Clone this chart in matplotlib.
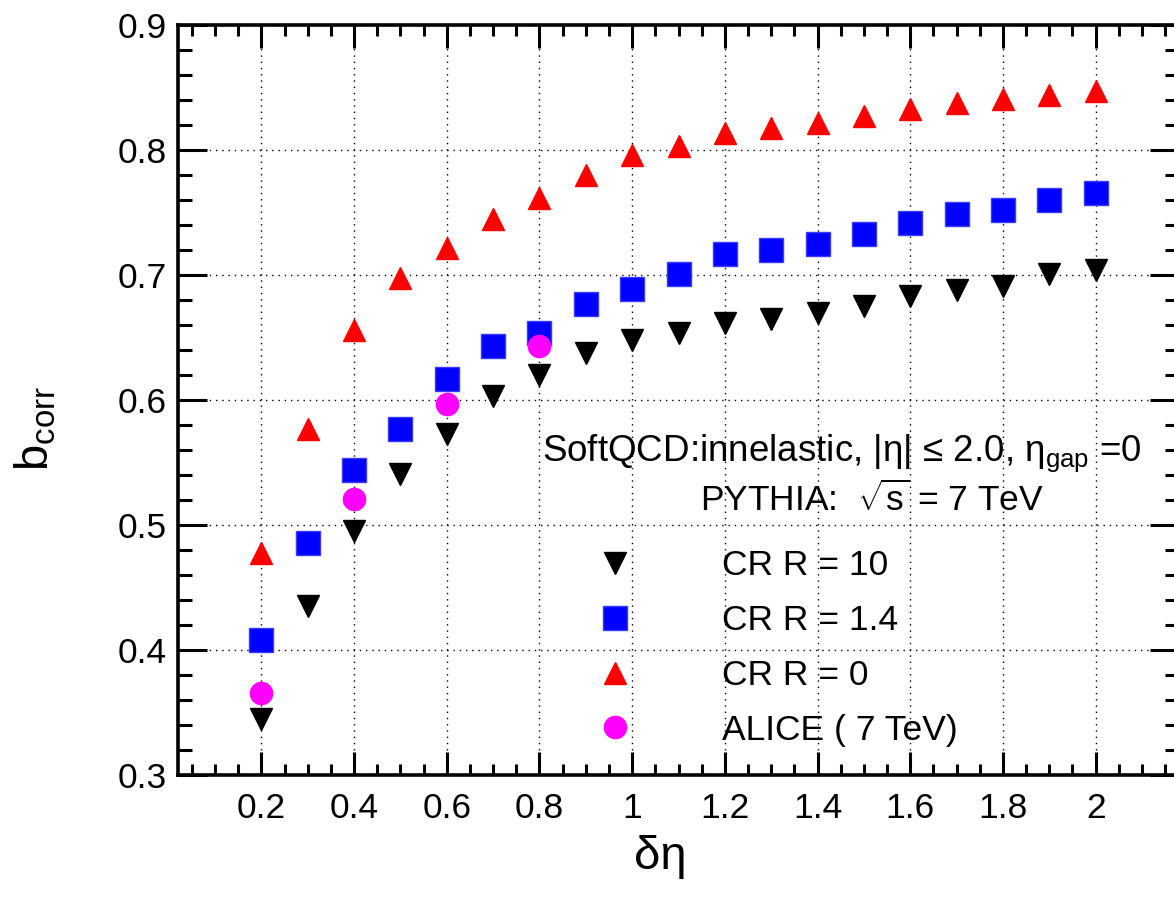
import matplotlib
matplotlib.use("Agg")
import matplotlib.pyplot as plt
from matplotlib.ticker import MultipleLocator

plt.rcParams['font.family'] = ['Liberation Sans', 'DejaVu Sans']
plt.rcParams['mathtext.fontset'] = 'custom'
plt.rcParams['mathtext.rm'] = 'Liberation Sans'
plt.rcParams['mathtext.it'] = 'Liberation Sans:italic'
plt.rcParams['mathtext.bf'] = 'Liberation Sans:bold'

# b_corr vs delta-eta window
deta = [0.2, 0.3, 0.4, 0.5, 0.6, 0.7, 0.8, 0.9, 1.0, 1.1,
        1.2, 1.3, 1.4, 1.5, 1.6, 1.7, 1.8, 1.9, 2.0]
cr_r10 = [0.345, 0.435, 0.495, 0.541, 0.573, 0.603, 0.620, 0.638, 0.648, 0.654,
          0.662, 0.665, 0.670, 0.675, 0.683, 0.688, 0.691, 0.701, 0.704]
cr_r14 = [0.408, 0.486, 0.544, 0.577, 0.617, 0.643, 0.654, 0.677, 0.689, 0.701,
          0.717, 0.720, 0.725, 0.733, 0.742, 0.749, 0.752, 0.760, 0.766]
cr_r0 = [0.478, 0.577, 0.656, 0.698, 0.722, 0.745, 0.762, 0.780, 0.796, 0.803,
         0.814, 0.818, 0.822, 0.827, 0.833, 0.838, 0.841, 0.844, 0.847]
alice_deta = [0.2, 0.4, 0.6, 0.8]
alice = [0.366, 0.521, 0.597, 0.643]

W, H = 1174, 901
fig = plt.figure(figsize=(W / 100, H / 100), dpi=100)
# frame runs slightly past the right edge of the canvas
ax = fig.add_axes([178 / W, (H - 775) / H, (1179 - 178) / W, 750 / H])

l1, = ax.plot(deta, cr_r10, 'v', color='black', ms=16, ls='none', label='CR R = 10')
l2, = ax.plot(deta, cr_r14, 's', color='#0000ff', mec='#3b3bff', ms=17, ls='none', label='CR R = 1.4')
l3, = ax.plot(deta, cr_r0, '^', color='#ff0000', ms=16, ls='none', label='CR R = 0')
l4, = ax.plot(alice_deta, alice, 'o', color='#ff00ff', ms=16, ls='none', label='ALICE ( 7 TeV)')

ax.set_xlim(0.02, 2.18)
ax.set_ylim(0.3, 0.9)
ax.xaxis.set_minor_locator(MultipleLocator(0.05))
ax.yaxis.set_minor_locator(MultipleLocator(0.02))
ax.set_xticks([0.2, 0.4, 0.6, 0.8, 1.0, 1.2, 1.4, 1.6, 1.8, 2.0])
ax.set_xticklabels(['0.2', '0.4', '0.6', '0.8', '1', '1.2', '1.4', '1.6', '1.8', '2'])
ax.set_yticks([0.3, 0.4, 0.5, 0.6, 0.7, 0.8, 0.9])
ax.set_yticklabels(['0.3', '0.4', '0.5', '0.6', '0.7', '0.8', '0.9'])

ax.grid(True, which='major', color='black', lw=1.0, ls=(0, (1, 3.5)))
ax.set_axisbelow(True)

for s in ax.spines.values():
    s.set_linewidth(2.6)
ax.tick_params(axis='both', which='both', direction='in', top=True, right=True,
               labelsize=25.5, color='black')
ax.tick_params(axis='x', which='major', length=16.5, width=2.2, pad=12)
ax.tick_params(axis='x', which='minor', length=8, width=2.2)
ax.tick_params(axis='y', which='major', length=21, width=2.2, pad=8)
ax.tick_params(axis='y', which='minor', length=10, width=2.2)

fig.text(660 / W, 1 - 857 / H, 'δη', fontsize=34, ha='center', va='center')
fig.text(36 / W, 1 - 428 / H, r'b$_{\rm corr}$', fontsize=34, ha='center', va='center',
         rotation=90)

fig.text(842 / W, 1 - 453 / H, r'SoftQCD:innelastic, |η| ≤ 2.0, η$_{\rm gap}$ =0',
         fontsize=26.5, ha='center', va='center')
fig.text(872 / W, 1 - 500 / H, r'PYTHIA:  $\sqrt{\rm s}$ = 7 TeV',
         fontsize=25.5, ha='center', va='center')

ax.legend(handles=[l1, l2, l3, l4], loc='upper left',
          bbox_to_anchor=(580 / W, 1 - 549 / H), bbox_transform=fig.transFigure,
          frameon=False, fontsize=25.5, handlelength=2.0, handletextpad=2.0,
          labelspacing=0.62, borderpad=0, borderaxespad=0)

fig.savefig('out.png', dpi=100)
